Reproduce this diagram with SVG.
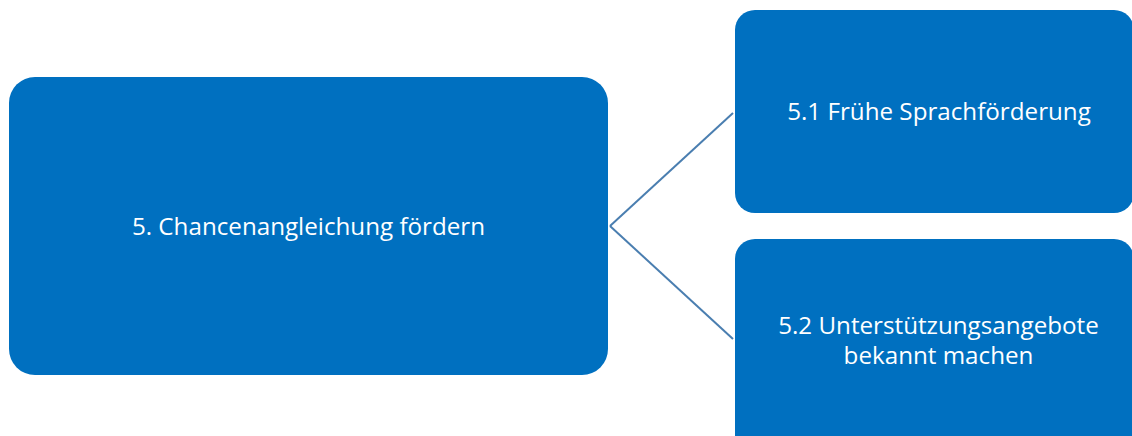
<svg xmlns="http://www.w3.org/2000/svg" width="1132" height="436" viewBox="0 0 1132 436">
<style>
.box{fill:#0070C0;}
.lbl{font-family:"Open Sans","Liberation Sans",sans-serif;font-size:24.2px;fill:#ffffff;text-anchor:middle;}
.con{stroke:#4A7EB0;stroke-width:2;fill:none;}
</style>
<rect width="1132" height="436" fill="#ffffff"/>
<g id="connectors">
<line class="con" x1="610" y1="226" x2="733" y2="113"/>
<line class="con" x1="610" y1="226" x2="733" y2="339"/>
</g>
<g id="node-main">
<rect class="box" x="9" y="77" width="599" height="298" rx="26" ry="26"/>
<text class="lbl" x="308.5" y="235">5. Chancenangleichung fördern</text>
</g>
<g id="node-5-1">
<rect class="box" x="735" y="10" width="399" height="203" rx="20" ry="20"/>
<text class="lbl" x="939" y="120">5.1 Frühe Sprachförderung</text>
</g>
<g id="node-5-2">
<rect class="box" x="735" y="239" width="399" height="220" rx="20" ry="20"/>
<text class="lbl" x="938.5" y="334">5.2 Unterstützungsangebote</text>
<text class="lbl" x="938.5" y="364">bekannt machen</text>
</g>
</svg>
